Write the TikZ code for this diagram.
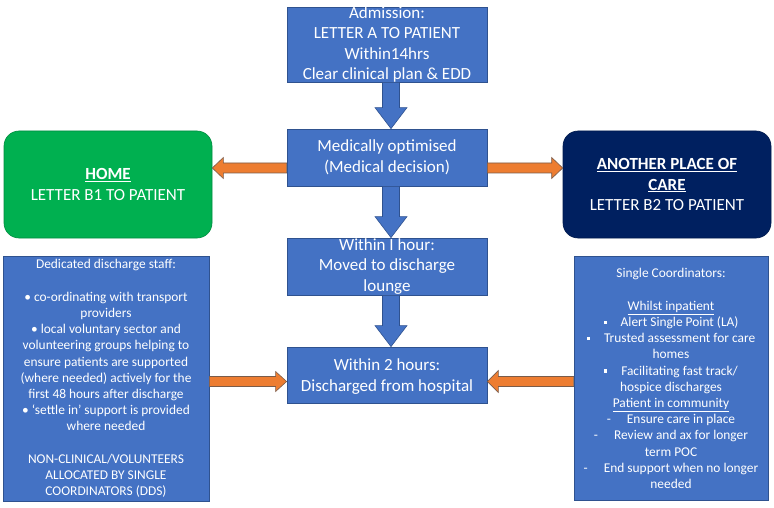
\documentclass[tikz,border=0pt]{standalone}
\usepackage{fontspec}
\setmainfont{Carlito}
\usetikzlibrary{calc}
\definecolor{obl}{HTML}{4472C4}
\definecolor{obd}{HTML}{2F528F}
\definecolor{oor}{HTML}{ED7D31}
\definecolor{oord}{HTML}{7A5C4A}
\definecolor{ogr}{HTML}{00B050}
\definecolor{onv}{HTML}{002060}
\newcommand\sqb{\rule[2.5pt]{3.2pt}{3.2pt}}
\newcommand\varrowblk[2]{%
  \draw[barrow] let \p1=($(#1.south)+(4,0)$), \p2=($(#2.north)+(4,0)$) in
    (\x1-8.5pt,\y1) -- (\x1-8.5pt,\y2+21pt) -- (\x1-16pt,\y2+21pt) -- (\x1,\y2)
    -- (\x1+16pt,\y2+21pt) -- (\x1+8.5pt,\y2+21pt) -- (\x1+8.5pt,\y1) -- cycle;}
% right-pointing orange arrow: #1 start coordinate, #2 tip coordinate, #3 head half height
\newcommand\harrowR[3]{%
  \draw[oarrow] let \p1=(#1), \p2=(#2) in
    (\x1,\y1+5pt) -- (\x2-11pt,\y1+5pt) -- (\x2-11pt,\y1+#3) -- (\x2,\y1)
    -- (\x2-11pt,\y1-#3) -- (\x2-11pt,\y1-5pt) -- (\x1,\y1-5pt) -- cycle;}
\newcommand\harrowL[3]{%
  \draw[oarrow] let \p1=(#1), \p2=(#2) in
    (\x1,\y1+5pt) -- (\x2+11pt,\y1+5pt) -- (\x2+11pt,\y1+#3) -- (\x2,\y1)
    -- (\x2+11pt,\y1-#3) -- (\x2+11pt,\y1-5pt) -- (\x1,\y1-5pt) -- cycle;}
\begin{document}
\begin{tikzpicture}[x=1pt,y=-1pt,
  every node/.style={inner sep=0pt,align=center,text=white},
  bluebox/.style={draw=obd,fill=obl,line width=0.8pt,minimum width=200pt},
  boxtext/.style={align=center,text=white,inner sep=0pt,
    font=\fontsize{17}{20.5}\selectfont},
  endbox/.style={rounded corners=15pt,minimum width=208pt,minimum height=107pt,
    font=\fontsize{17}{20.5}\selectfont},
  sidebox/.style={draw=obd,fill=obl,line width=0.8pt,
    font=\fontsize{13.4}{16.2}\selectfont},
  barrow/.style={draw=obd,fill=obl,line width=0.6pt},
  oarrow/.style={draw=oord,fill=oor,line width=0.6pt}]
\useasboundingbox[fill=white] (0,0) rectangle (774,508);

\node[bluebox,minimum height=75pt,
  label={[boxtext]center:Admission:\\LETTER A TO PATIENT\\Within14hrs\\Clear clinical plan \& EDD}]
  (adm) at (387,44.5) {};
\node[bluebox,minimum height=57pt,
  label={[boxtext]center:Medically optimised\\(Medical decision)}]
  (med) at (387,157.5) {};
\node[bluebox,minimum height=57pt,
  label={[boxtext]center:Within I hour:\\Moved to discharge\\lounge}]
  (w1) at (387,266.5) {};
\node[bluebox,minimum height=56pt,
  label={[boxtext,yshift=-1.5pt]center:Within 2 hours:\\Discharged from hospital}]
  (w2) at (387,375) {};

\node[endbox,fill=ogr,draw=ogr!80!black,line width=0.6pt] (home) at (108,184.5)
  {\textbf{\underline{HOME}}\\LETTER B1 TO PATIENT};
\node[endbox,fill=onv,draw=onv!80!black,line width=0.6pt] (other) at (667,184.5)
  {\textbf{\underline{ANOTHER PLACE OF}}\\\textbf{\underline{CARE}}\\LETTER B2 TO PATIENT};

\node[sidebox,minimum width=206pt,minimum height=245pt] (dds) at (106,378.5)
  {Dedicated discharge staff:\\\mbox{}\\
   • co-ordinating with transport\\providers\\
   • local voluntary sector and\\volunteering groups helping to\\
   ensure patients are supported\\(where needed) actively for the\\
   first 48 hours after discharge\\• ‘settle in’ support is provided\\
   where needed\\\mbox{}\\
   NON-CLINICAL/VOLUNTEERS\\ALLOCATED BY SINGLE\\COORDINATORS (DDS)};
\node[sidebox,minimum width=194pt,minimum height=244pt] (sc) at (671,378.5)
  {Single Coordinators:\\\mbox{}\\
   \underline{Whilst inpatient}\\
   \sqb\hspace{14pt}Alert Single Point (LA)\\
   \sqb\hspace{14pt}Trusted assessment for care\\homes\\
   \sqb\hspace{14pt}Facilitating fast track/\\hospice discharges\\
   \underline{Patient in community}\\
   -\hspace{16pt}Ensure care in place\\
   -\hspace{16pt}Review and ax for longer\\term POC\\
   -\hspace{16pt}End support when no longer\\needed};

\varrowblk{adm}{med}
\varrowblk{med}{w1}
\varrowblk{w1}{w2}

\harrowL{$(med.west)+(0,10.5)$}{$(home.east|-med.west)+(0,10.5)$}{10.5pt}
\harrowR{$(med.east)+(0,10.5)$}{$(other.west|-med.east)+(0,10.5)$}{10.5pt}
\harrowR{$(dds.east|-w2.west)+(0,6.5)$}{$(w2.west)+(0,6.5)$}{10pt}
\harrowL{$(sc.west|-w2.east)+(0,6.5)$}{$(w2.east)+(0,6.5)$}{11pt}
\end{tikzpicture}
\end{document}
